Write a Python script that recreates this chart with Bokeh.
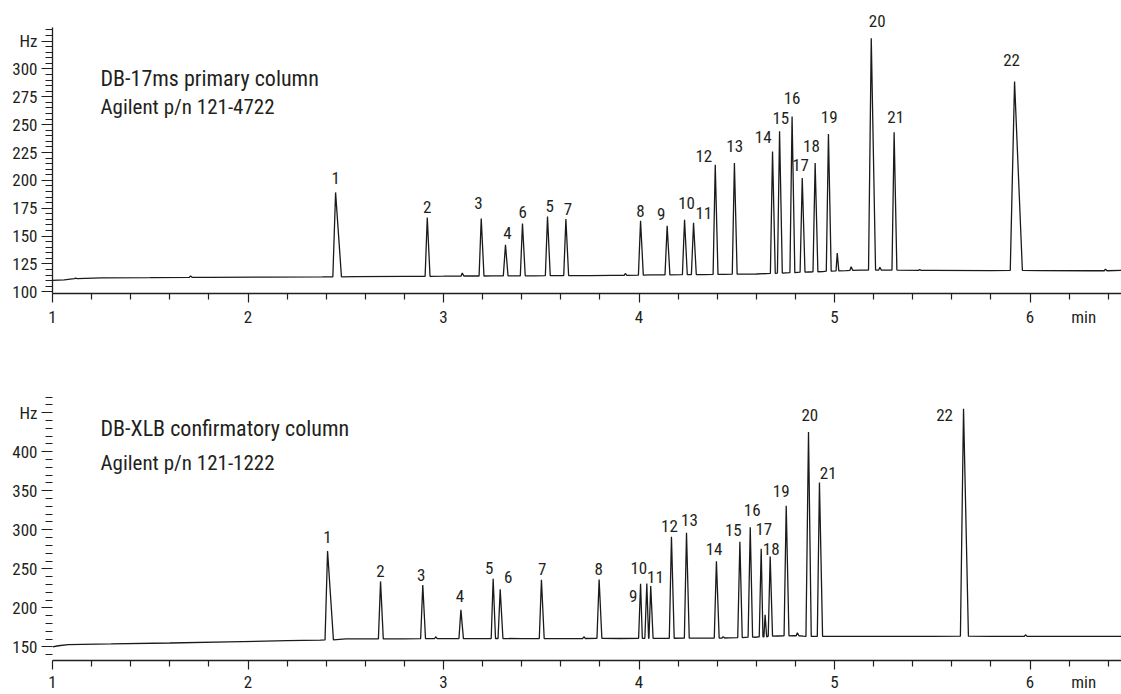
from bokeh.plotting import figure
from bokeh.models import Range1d, FixedTicker, Label, ColumnDataSource, LinearAxis
from bokeh.layouts import column
from bokeh.embed import file_html
from bokeh.resources import INLINE
from bokeh.core.properties import value

FONT = "Roboto Condensed, Roboto"
INK = "#231f20"

# ---------------- data: DB-17ms primary column ----------------
top_title = "DB-17ms primary column"
top_sub = "Agilent p/n 121-4722"
top_peak = [str(i) for i in range(1, 23)]
top_rt = [2.448, 2.917, 3.193, 3.317, 3.532, 3.404, 3.626, 4.008, 4.144, 4.233, 4.279,
          4.390, 4.488, 4.683, 4.719, 4.783, 4.835, 4.901, 4.969, 5.188, 5.305, 5.921]
top_apex = [189.2, 166.7, 165.8, 142.2, 167.6, 161.3, 165.3, 163.8, 159.3, 164.7, 162.0,
            214.1, 215.6, 226.0, 244.0, 257.2, 202.1, 215.6, 241.6, 327.5, 243.1, 288.6]
top_foot = [113.5, 113.9, 114.2, 114.4, 114.5, 114.4, 114.6, 115.0, 115.2, 115.4, 115.5,
            115.6, 115.8, 116.5, 116.8, 117.2, 117.6, 118.0, 118.5, 119.5, 119.5, 119.2]
top_wl = [0.014, 0.011, 0.011, 0.011, 0.011, 0.011, 0.011, 0.011, 0.011, 0.011, 0.011,
          0.011, 0.011, 0.011, 0.011, 0.011, 0.011, 0.011, 0.011, 0.014, 0.011, 0.022]
top_wr = [0.030, 0.014, 0.014, 0.013, 0.014, 0.014, 0.014, 0.014, 0.014, 0.014, 0.014,
          0.014, 0.014, 0.014, 0.014, 0.014, 0.014, 0.014, 0.014, 0.022, 0.014, 0.040]
top_minor_rt = [1.118, 1.706, 3.096, 3.930, 5.014, 5.085, 5.232, 5.435, 6.386]
top_minor_apex = [112.3, 114.2, 116.8, 116.4, 134.8, 122.5, 122.0, 120.0, 120.3]
top_minor_foot = [111.8, 113.0, 114.2, 114.8, 118.8, 119.3, 119.5, 119.2, 118.9]
top_base_t = [1.00, 1.06, 1.25, 1.50, 1.80, 2.10, 2.38, 2.55, 2.80, 3.00, 3.25, 3.47, 3.75,
              3.86, 4.06, 4.33, 4.44, 4.60, 4.87, 4.94, 5.06, 5.13, 5.27, 5.50, 5.80, 6.05,
              6.30, 6.47]
top_base_v = [110.3, 110.8, 112.5, 112.7, 113.0, 113.2, 113.4, 113.6, 113.8, 114.0, 114.3,
              114.4, 114.6, 114.8, 115.2, 115.5, 115.6, 116.0, 117.8, 118.2, 119.0, 119.5,
              119.5, 119.2, 119.0, 119.0, 118.9, 119.2]
top_yticks = [100, 125, 150, 175, 200, 225, 250, 275, 300, 325]
top_ytick_labels = ["100", "125", "150", "175", "200", "225", "250", "275", "300", "Hz"]

# ---------------- data: DB-XLB confirmatory column ----------------
bot_title = "DB-XLB confirmatory column"
bot_sub = "Agilent p/n 121-1222"
bot_peak = [str(i) for i in range(1, 23)]
bot_rt = [2.407, 2.678, 2.894, 3.089, 3.254, 3.290, 3.501, 3.796, 4.008, 4.040, 4.060,
          4.166, 4.243, 4.396, 4.516, 4.569, 4.625, 4.671, 4.753, 4.867, 4.923, 5.660]
bot_apex = [272.8, 233.9, 229.2, 197.4, 237.2, 223.7, 236.0, 236.4, 230.9, 231.3, 227.9,
            291.1, 296.2, 259.7, 284.7, 303.3, 275.8, 265.7, 330.9, 425.3, 360.5, 455.1]
bot_foot = [159.0, 160.3, 160.5, 160.6, 160.8, 160.8, 160.8, 161.0, 161.0, 161.0, 161.0,
            161.1, 161.2, 161.3, 162.0, 162.5, 163.0, 163.8, 164.2, 163.5, 163.5, 163.8]
bot_wl = [0.013, 0.011, 0.011, 0.010, 0.010, 0.011, 0.011, 0.011, 0.010, 0.010, 0.009,
          0.011, 0.011, 0.011, 0.011, 0.011, 0.010, 0.010, 0.011, 0.013, 0.011, 0.016]
bot_wr = [0.030, 0.014, 0.014, 0.013, 0.012, 0.014, 0.014, 0.014, 0.009, 0.009, 0.012,
          0.014, 0.014, 0.014, 0.012, 0.012, 0.009, 0.012, 0.014, 0.014, 0.016, 0.025]
bot_minor_rt = [2.960, 3.718, 4.430, 4.645, 4.810, 5.977]
bot_minor_apex = [163.0, 163.0, 163.0, 191.0, 168.0, 165.5]
bot_minor_foot = [160.5, 160.8, 161.4, 162.8, 164.3, 163.5]
bot_base_t = [1.00, 1.03, 1.08, 1.30, 1.60, 1.90, 2.20, 2.37, 2.50, 2.80, 3.18, 3.40, 3.65,
              3.90, 4.11, 4.30, 4.46, 4.60, 4.71, 4.79, 4.84, 4.96, 5.20, 5.50, 5.80, 6.20,
              6.47]
bot_base_v = [150.0, 151.5, 153.0, 153.8, 155.0, 156.5, 158.0, 158.6, 160.2, 160.4, 160.6,
              160.6, 160.7, 160.8, 161.0, 161.2, 161.6, 162.4, 164.0, 164.3, 163.8, 163.5,
              163.6, 163.6, 163.6, 163.5, 163.5]
bot_yticks = [150, 200, 250, 300, 350, 400, 450]
bot_ytick_labels = ["150", "200", "250", "300", "350", "400", "Hz"]

x_ticks = [1, 2, 3, 4, 5, 6]
x_unit = "min"

# ---------------- layout (pixels / positions) ----------------
X_UNIT_AT = 6.275
top_lab_dx = [0, 0, -2.7, 2, 2.3, 0.3, 2, 0, -6, 2, 10.3, -11.4, 0.3, -9.3, 1.3, 0, -1.7,
              -3.7, 0.7, 6, 1.6, -3]
top_lab_up = [14.4, 10.7, 15.4, 11.7, 10, 11.7, 10, 10, 11.7, 16.3, 9.3, 9, 17.3, 14.7,
              13.4, 19, 12.6, 17.3, 16.6, 17, 15, 21.7]
bot_lab_dx = [0, 0, -1.6, -1, -4, 8, 0.7, -0.4, -7.3, -8, 4.7, -2, 3, -2.3, -6.6, 2, 2.6,
              1, -5, 1.3, 8.7, -19]
bot_lab_up = [14.4, 10.6, 10, 13.7, 10.4, 12, 10.7, 10.3, -12.6, 15.3, 9.3, 10.6, 12.6,
              12.7, 11.6, 17, 19.3, 8, 14.3, 16.7, 10, -6.7]

W = 1121
X_RANGE = (1.0, 6.468)


def build_trace(base_t, base_v, rt, apex, foot, wl, wr):
    spans = [(r - a, r + b) for r, a, b in zip(rt, wl, wr)]
    pts = [(t, v) for t, v in zip(base_t, base_v)
           if not any(lo - 0.003 <= t <= hi + 0.003 for lo, hi in spans)]
    for r, a, f, l, w in zip(rt, apex, foot, wl, wr):
        pts += [(r - l, f), (r, a), (r + w, f)]
    pts.sort()
    return [p[0] for p in pts], [p[1] for p in pts]


def make_panel(height, border_top, border_bottom, y_range, y_bounds, yticks, ylabels,
               yminor, y_axis_line, base_t, base_v, rt, apex, foot, wl, wr,
               mrt, mapex, mfoot, peaks, lab_dx, lab_up, title, sub, title_y, sub_y,
               label_gap):
    p = figure(width=W, height=height, output_backend="svg", toolbar_location=None,
               x_range=Range1d(*X_RANGE), y_range=Range1d(*y_range),
               min_border_left=52, min_border_right=0, min_border_top=border_top,
               min_border_bottom=border_bottom)
    p.outline_line_color = None
    p.xgrid.visible = False
    p.ygrid.visible = False
    p.background_fill_color = "white"

    all_rt = list(rt) + list(mrt)
    all_apex = list(apex) + list(mapex)
    all_foot = list(foot) + list(mfoot)
    all_wl = list(wl) + [0.006] * len(mrt)
    all_wr = list(wr) + [0.008] * len(mrt)
    tx, ty = build_trace(base_t, base_v, all_rt, all_apex, all_foot, all_wl, all_wr)
    p.line(tx, ty, line_color="#1a1a1a", line_width=1.3)

    src = ColumnDataSource(dict(x=rt, y=apex, text=peaks, dx=lab_dx,
                                dy=[-u for u in lab_up]))
    p.text(x="x", y="y", text="text", x_offset="dx", y_offset="dy", source=src,
           text_align="center", text_baseline="middle", text_color=INK,
           text_font=value(FONT), text_font_size="17px")

    # x axis: line and tick marks
    xa = p.xaxis[0]
    xa.ticker = FixedTicker(ticks=x_ticks,
                            minor_ticks=[1 + 0.2 * k for k in range(1, 28) if k % 5])
    xa.axis_line_color = INK
    xa.axis_line_width = 1.3
    xa.major_tick_line_color = INK
    xa.minor_tick_line_color = INK
    xa.major_tick_line_width = 1.2
    xa.minor_tick_line_width = 1.2
    xa.major_tick_in = 0
    xa.major_tick_out = 9
    xa.minor_tick_in = 0
    xa.minor_tick_out = 6
    xa.major_label_standoff = 0
    xa.major_label_overrides = {t: "" for t in x_ticks}
    xa.major_label_text_font_size = "0px"

    # x axis: tick labels and unit
    xb = LinearAxis(ticker=FixedTicker(ticks=x_ticks + [X_UNIT_AT], minor_ticks=[]))
    xb.major_label_overrides = {X_UNIT_AT: x_unit}
    xb.axis_line_color = None
    xb.major_tick_line_color = None
    xb.minor_tick_line_color = None
    xb.major_tick_in = 0
    xb.major_tick_out = 0
    xb.minor_tick_in = 0
    xb.minor_tick_out = 0
    xb.major_label_standoff = label_gap
    xb.major_label_text_font = FONT
    xb.major_label_text_font_size = "17px"
    xb.major_label_text_color = INK
    p.add_layout(xb, "below")

    # y axis
    ya = p.yaxis[0]
    ya.ticker = FixedTicker(ticks=yticks, minor_ticks=yminor)
    ya.major_label_overrides = {t: l for t, l in zip(yticks, ylabels)}
    ya.bounds = y_bounds
    ya.axis_line_color = INK if y_axis_line else None
    ya.axis_line_width = 1.3
    ya.major_tick_line_color = INK
    ya.minor_tick_line_color = INK
    ya.major_tick_line_width = 1.2
    ya.minor_tick_line_width = 1.2
    ya.major_tick_in = 0
    ya.major_tick_out = 11
    ya.minor_tick_in = 0
    ya.minor_tick_out = 7
    ya.major_label_standoff = 4
    ya.major_label_text_font = FONT
    ya.major_label_text_font_size = "17px"
    ya.major_label_text_color = INK

    p.add_layout(Label(x=48, y=title_y, x_units="screen", y_units="screen", text=title,
                       text_font=FONT, text_font_size="22px", text_color=INK,
                       text_baseline="alphabetic"))
    p.add_layout(Label(x=48, y=sub_y, x_units="screen", y_units="screen", text=sub,
                       text_font=FONT, text_font_size="21px", text_color=INK,
                       text_baseline="alphabetic"))
    return p


top = make_panel(386, 8, 93, (98.5, 354.2), (98.5, 337.0), top_yticks, top_ytick_labels,
                 [v for v in range(105, 340, 5) if v % 25], True,
                 top_base_t, top_base_v, top_rt, top_apex, top_foot, top_wl, top_wr,
                 top_minor_rt, top_minor_apex, top_minor_foot, top_peak,
                 top_lab_dx, top_lab_up, top_title, top_sub, 214.7, 187.0, 4)

bot = make_panel(308, 10, 32, (132.6, 470.7), (132.6, 470.7), bot_yticks, bot_ytick_labels,
                 [v for v in range(140, 471, 10) if v % 50], False,
                 bot_base_t, bot_base_v, bot_rt, bot_apex, bot_foot, bot_wl, bot_wr,
                 bot_minor_rt, bot_minor_apex, bot_minor_foot, bot_peak,
                 bot_lab_dx, bot_lab_up, bot_title, bot_sub, 232.0, 198.0, 2)

layout = column(top, bot, spacing=0)
open("out.html", "w").write(file_html(layout, INLINE))
